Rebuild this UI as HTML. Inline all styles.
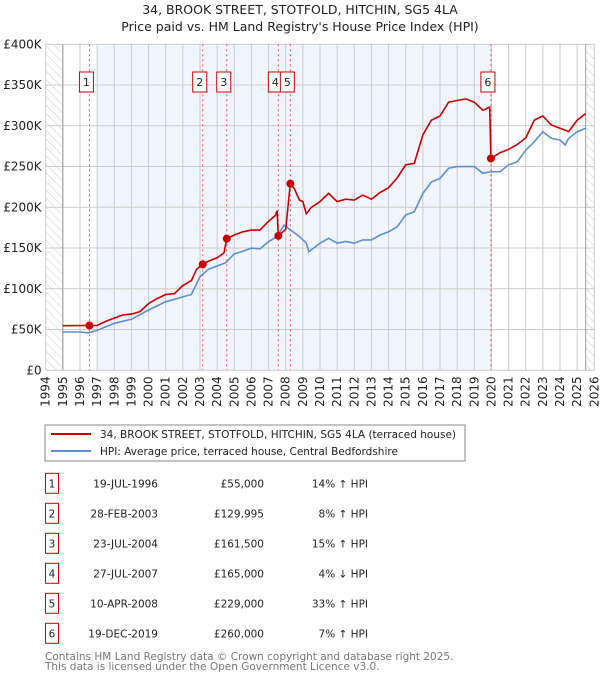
<!DOCTYPE html>
<html><head><meta charset="utf-8">
<style>
body{margin:0;background:#fff;font-family:"DejaVu Sans","Liberation Sans",sans-serif;}
svg text{font-family:"DejaVu Sans","Liberation Sans",sans-serif;}
</style></head>
<body>
<svg width="600" height="680" viewBox="0 0 600 680" xmlns="http://www.w3.org/2000/svg">
<defs>
<pattern id="hatch" width="6" height="6" patternUnits="userSpaceOnUse" patternTransform="rotate(-45)">
<line x1="0" y1="0" x2="0" y2="6" stroke="#ccc" stroke-width="1"/></pattern>
</defs>
<text x="300" y="14" text-anchor="middle" font-size="12.5" fill="#222">34, BROOK STREET, STOTFOLD, HITCHIN, SG5 4LA</text>
<text x="300" y="31" text-anchor="middle" font-size="12.5" fill="#222">Price paid vs. HM Land Registry's House Price Index (HPI)</text>
<g id="plot"></g>
<g id="legend">
<rect x="45" y="425" width="420" height="36" fill="#fff" stroke="#888"/>
<line x1="51" y1="434" x2="91" y2="434" stroke="#cc0000" stroke-width="2"/>
<text x="100" y="438" font-size="10.5" fill="#222">34, BROOK STREET, STOTFOLD, HITCHIN, SG5 4LA (terraced house)</text>
<line x1="51" y1="451" x2="91" y2="451" stroke="#5b8fd4" stroke-width="2"/>
<text x="100" y="455" font-size="10.5" fill="#222">HPI: Average price, terraced house, Central Bedfordshire</text>
</g>
<g id="table"></g>
<text x="45" y="660" font-size="10.5" fill="#777">Contains HM Land Registry data © Crown copyright and database right 2025.</text>
<text x="45" y="670" font-size="10.5" fill="#777">This data is licensed under the Open Government Licence v3.0.</text>
</svg>
<script>
const hpiYears=[1995,1996,1996.5,1997,1998,1999,2000,2001,2002,2002.5,2003,2003.5,2004,2004.5,2005,2005.5,2006,2006.5,2007,2007.5,2007.9,2008.3,2008.8,2009.2,2009.35,2010,2010.5,2011,2011.5,2012,2012.5,2013,2013.5,2014,2014.5,2015,2015.5,2016,2016.5,2017,2017.5,2018,2018.5,2019,2019.5,2020,2020.5,2021,2021.5,2022,2022.5,2023,2023.5,2024,2024.3,2024.5,2025,2025.5];
const hpiValues=[47,47,46,49,57.7,62.6,74,84,90,93,115,124,128,132,143,146,150,149,158,164,178,172,164,156,145.5,156,162,156,158,156,160,160,166,170,176,190.5,194.6,217,231,235.6,248,250,250,250,241.7,243.7,243.7,252,256,270,280.5,292.8,284.6,282.6,276.4,284.6,292.8,297];
const priceYears=[1995,1996.55,1997,1997.5,1998,1998.5,1999,1999.5,2000,2000.5,2001,2001.5,2002,2002.5,2002.8,2003.16,2003.5,2004,2004.4,2004.56,2005,2005.5,2006,2006.5,2007,2007.4,2007.5,2007.57,2008,2008.27,2008.5,2008.8,2009,2009.2,2009.5,2010,2010.5,2011,2011.5,2012,2012.5,2013,2013.5,2014,2014.5,2015,2015.5,2016,2016.5,2017,2017.5,2018,2018.5,2019,2019.5,2019.9,2019.97,2020.5,2021,2021.5,2022,2022.5,2023,2023.5,2024,2024.5,2025,2025.5];
const priceValues=[54.7,55,55,60,64,68,69,72,82,88,93,94,104,110,124,130,134,138,144,161.5,166,170,172,172,183,190,196,165,173,229,223,209,207,192,200,207,217,207,210,209,215,210,218,224,236,252,254,289,307,312,329,331,333,329,319,323,260,267,271,277,285,307,312,301,297,293,307,315];
const saleLabels=["1","2","3","4","5","6"];
const saleYears=[1996.55,2003.16,2004.56,2007.57,2008.27,2019.97];
const saleValues=[55,129.995,161.5,165,229,260];
const saleDates=["19-JUL-1996","28-FEB-2003","23-JUL-2004","27-JUL-2007","10-APR-2008","19-DEC-2019"];
const salePrices=["£55,000","£129,995","£161,500","£165,000","£229,000","£260,000"];
const saleHpi=["14% ↑ HPI","8% ↑ HPI","15% ↑ HPI","4% ↓ HPI","33% ↑ HPI","7% ↑ HPI"];
const yTicks=[0,50,100,150,200,250,300,350,400];
const yTickLabels=["£0","£50K","£100K","£150K","£200K","£250K","£300K","£350K","£400K"];
const xTicks=[1994,1995,1996,1997,1998,1999,2000,2001,2002,2003,2004,2005,2006,2007,2008,2009,2010,2011,2012,2013,2014,2015,2016,2017,2018,2019,2020,2021,2022,2023,2024,2025,2026];

const NS="http://www.w3.org/2000/svg";
const X0=45.7,X1=594.3,Y0=370.3,Y1=44.3;
const xs=v=>X0+(v-1994)/32*(X1-X0);
const ys=v=>Y0-v/400*(Y0-Y1);
const plot=document.getElementById('plot');
function mk(tag,attrs,parent){const e=document.createElementNS(NS,tag);for(const k in attrs)e.setAttribute(k,attrs[k]);(parent||plot).appendChild(e);return e;}

let e;
e=mk('rect',{x:X0,y:Y1,width:X1-X0,height:Y0-Y1,fill:'#fff'});


e=mk('rect',{x:xs(1997),y:Y1,width:xs(saleYears[5])-xs(1997),height:Y0-Y1,fill:'#eef3fc',opacity:0.8});


e=mk('rect',{x:X0,y:Y1,width:xs(1995)-X0,height:Y0-Y1,fill:'url(#hatch)'});


e=mk('rect',{x:xs(2025.5),y:Y1,width:X1-xs(2025.5),height:Y0-Y1,fill:'url(#hatch)'});


xTicks.forEach((t,i)=>{
  e=mk('line',{x1:xs(t),x2:xs(t),y1:Y1,y2:Y0,stroke:'#ccc','stroke-width':1});
  
  
  const tx=mk('text',{x:0,y:0,'font-size':12,fill:'#222','text-anchor':'end',transform:`translate(${xs(t)+4},${Y0+6}) rotate(-90)`});
  tx.textContent=t;
  
  
});
yTicks.forEach((t,i)=>{
  e=mk('line',{x1:X0,x2:X1,y1:ys(t),y2:ys(t),stroke:'#ccc','stroke-width':1});
  
  
  const tx=mk('text',{x:X0-4,y:ys(t)+4,'font-size':12,fill:'#222','text-anchor':'end'});
  tx.textContent=yTickLabels[i];
  
  
});
e=mk('line',{x1:xs(1995),x2:xs(1995),y1:Y1,y2:Y0,stroke:'#999','stroke-width':1});


e=mk('line',{x1:xs(2025.5),x2:xs(2025.5),y1:Y1,y2:Y0,stroke:'#999','stroke-width':1});


saleYears.forEach((s,i)=>{
  e=mk('line',{x1:xs(s),x2:xs(s),y1:Y1,y2:Y0,stroke:'#e55','stroke-width':1,'stroke-dasharray':'2,3'});
  
  
});
const pts=(xa,va)=>xa.map((x,i)=>xs(x).toFixed(1)+','+ys(va[i]).toFixed(1)).join(' ');
e=mk('polyline',{points:pts(hpiYears,hpiValues),fill:'none',stroke:'#5b8fd4','stroke-width':1.6});


e=mk('polyline',{points:pts(priceYears,priceValues),fill:'none',stroke:'#cc0000','stroke-width':1.6});


saleYears.forEach((s,i)=>{
  e=mk('circle',{cx:xs(s),cy:ys(saleValues[i]),r:4,fill:'#cc0000'});
  
  
  const bx=xs(s)-3;
  e=mk('rect',{x:bx-7,y:72,width:14,height:20,fill:'#fff',stroke:'#cc0000','stroke-width':1});
  
  
  const tx=mk('text',{x:bx,y:86,'font-size':11,fill:'#222','text-anchor':'middle'});
  tx.textContent=saleLabels[i];
  
  
});
const tbl=document.getElementById('table');
saleLabels.forEach((l,i)=>{
  const cy=483.3+30*i;
  e=mk('rect',{x:45.5,y:cy-10,width:13,height:20,fill:'#fff',stroke:'#cc0000','stroke-width':1},tbl);
  
  
  const cells=[[52,'middle',l,'row-number'],[158,'end',saleDates[i],'row-date'],[264,'end',salePrices[i],'row-price'],[368,'end',saleHpi[i],'row-hpi']];
  cells.forEach(c=>{
    const tx=mk('text',{x:c[0],y:cy+4,'font-size':10.5,fill:'#222','text-anchor':c[1]},tbl);
    tx.textContent=c[2];
    
    
  });
});
</script>
</body></html>
